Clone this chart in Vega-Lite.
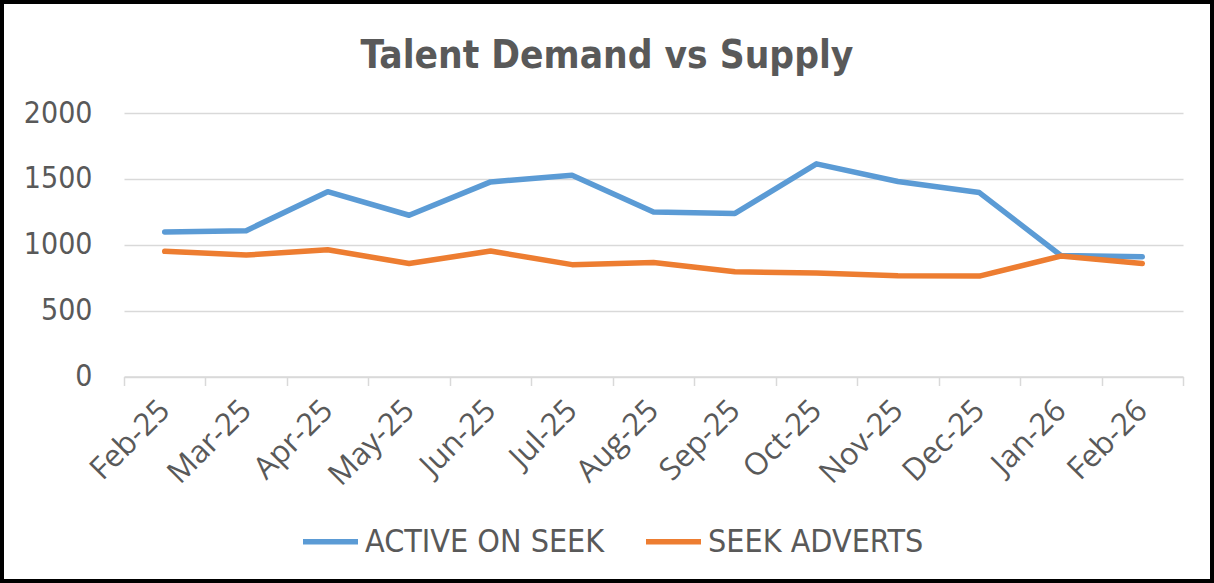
{
  "$schema": "https://vega.github.io/schema/vega-lite/v6.json",
  "width": 1210,
  "height": 579,
  "padding": 2,
  "autosize": {"type": "none"},
  "background": "white",
  "title": {
    "text": "Talent Demand vs Supply",
    "font": "DejaVu Sans Condensed",
    "fontSize": 38.5,
    "fontWeight": "bold",
    "color": "#595959",
    "anchor": "middle",
    "offset": -74
  },
  "config": {
    "view": {"stroke": "black", "strokeWidth": 4, "fill": "white"},
    "font": "DejaVu Sans Condensed"
  },
  "data": {
    "values": [
      {"month": "Feb-25", "series": "ACTIVE ON SEEK", "value": 1097},
      {"month": "Mar-25", "series": "ACTIVE ON SEEK", "value": 1107},
      {"month": "Apr-25", "series": "ACTIVE ON SEEK", "value": 1403},
      {"month": "May-25", "series": "ACTIVE ON SEEK", "value": 1224},
      {"month": "Jun-25", "series": "ACTIVE ON SEEK", "value": 1477},
      {"month": "Jul-25", "series": "ACTIVE ON SEEK", "value": 1527},
      {"month": "Aug-25", "series": "ACTIVE ON SEEK", "value": 1248},
      {"month": "Sep-25", "series": "ACTIVE ON SEEK", "value": 1238},
      {"month": "Oct-25", "series": "ACTIVE ON SEEK", "value": 1614},
      {"month": "Nov-25", "series": "ACTIVE ON SEEK", "value": 1480},
      {"month": "Dec-25", "series": "ACTIVE ON SEEK", "value": 1396},
      {"month": "Jan-26", "series": "ACTIVE ON SEEK", "value": 919},
      {"month": "Feb-26", "series": "ACTIVE ON SEEK", "value": 909},
      {"month": "Feb-25", "series": "SEEK ADVERTS", "value": 950},
      {"month": "Mar-25", "series": "SEEK ADVERTS", "value": 922},
      {"month": "Apr-25", "series": "SEEK ADVERTS", "value": 962},
      {"month": "May-25", "series": "SEEK ADVERTS", "value": 858},
      {"month": "Jun-25", "series": "SEEK ADVERTS", "value": 952},
      {"month": "Jul-25", "series": "SEEK ADVERTS", "value": 849},
      {"month": "Aug-25", "series": "SEEK ADVERTS", "value": 866},
      {"month": "Sep-25", "series": "SEEK ADVERTS", "value": 795},
      {"month": "Oct-25", "series": "SEEK ADVERTS", "value": 785},
      {"month": "Nov-25", "series": "SEEK ADVERTS", "value": 765},
      {"month": "Dec-25", "series": "SEEK ADVERTS", "value": 762},
      {"month": "Jan-26", "series": "SEEK ADVERTS", "value": 914},
      {"month": "Feb-26", "series": "SEEK ADVERTS", "value": 858}
    ]
  },
  "mark": {"type": "line", "strokeWidth": 5.5, "strokeCap": "round", "strokeJoin": "round"},
  "encoding": {
    "x": {
      "field": "month",
      "type": "ordinal",
      "sort": null,
      "bandPosition": 0.5,
      "scale": {"type": "band", "range": [122, 1181], "paddingInner": 0, "paddingOuter": 0},
      "axis": {
        "title": null,
        "offset": -204.5,
        "grid": false,
        "tickBand": "extent",
        "tickSize": 9,
        "tickColor": "#d9d9d9",
        "tickWidth": 1.5,
        "domainColor": "#d9d9d9",
        "domainWidth": 1.5,
        "labelAngle": -45,
        "labelAlign": "right",
        "labelBaseline": "middle",
        "labelPadding": 20,
        "labelFont": "Open Sans",
        "labelFontSize": 31,
        "labelColor": "#595959"
      }
    },
    "y": {
      "field": "value",
      "type": "quantitative",
      "scale": {"domain": [0, 2000], "nice": false, "range": [374.5, 111]},
      "axis": {
        "title": null,
        "offset": -98,
        "values": [0, 500, 1000, 1500, 2000],
        "format": "d",
        "domain": false,
        "ticks": false,
        "tickSize": 0,
        "labelPadding": 8,
        "grid": true,
        "gridColor": "#d9d9d9",
        "gridWidth": 1.5,
        "labelFont": "DejaVu Sans Condensed",
        "labelFontSize": 30,
        "labelColor": "#595959"
      }
    },
    "color": {
      "field": "series",
      "type": "nominal",
      "scale": {"domain": ["ACTIVE ON SEEK", "SEEK ADVERTS"], "range": ["#5b9bd5", "#ed7d31"]},
      "legend": {
        "title": null,
        "orient": "none",
        "direction": "horizontal",
        "legendX": 298,
        "legendY": 509,
        "symbolType": "stroke",
        "symbolSize": 3025,
        "symbolStrokeWidth": 5.5,
        "labelFont": "DejaVu Sans Condensed",
        "labelFontSize": 32,
        "labelColor": "#595959",
        "labelOffset": 4,
        "columnPadding": 30,
        "labelLimit": 400
      }
    }
  }
}
